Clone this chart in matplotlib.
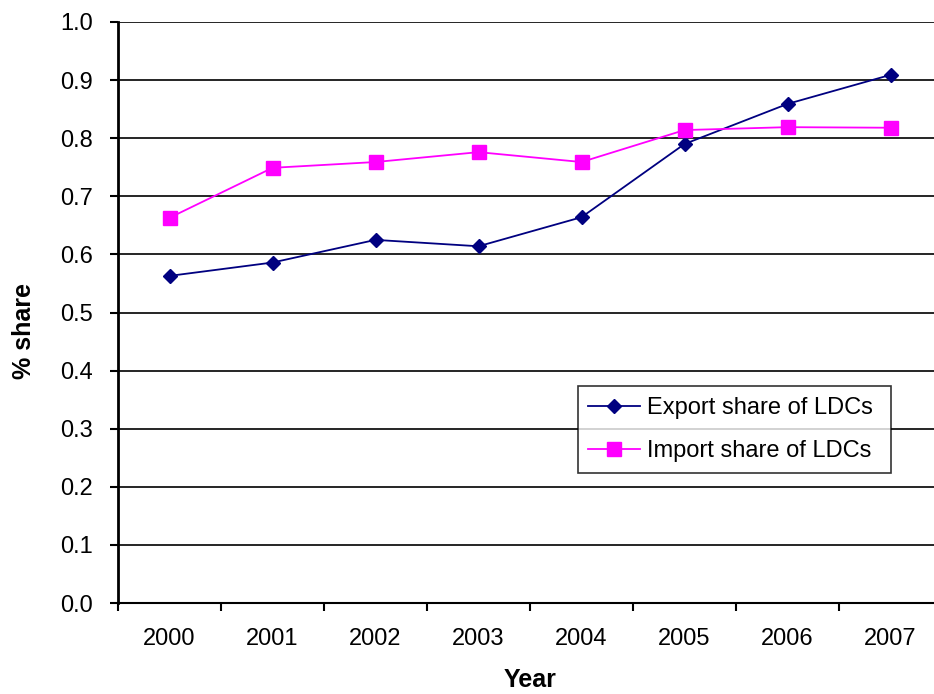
import matplotlib.pyplot as plt
import numpy as np

plt.rcParams['font.family'] = ['Liberation Sans', 'DejaVu Sans']

years = ['2000', '2001', '2002', '2003', '2004', '2005', '2006', '2007']
export_share = [0.563, 0.586, 0.625, 0.614, 0.664, 0.790, 0.859, 0.909]
import_share = [0.663, 0.749, 0.759, 0.776, 0.759, 0.814, 0.819, 0.818]

fig = plt.figure(figsize=(9.34, 6.94), dpi=100)
ax = fig.add_axes([118/934, 91/694, 824/934, 581/694])

x = np.arange(len(years))
ax.plot(x, export_share, color='#000080', marker='D', markersize=7, lw=1.3,
        label='Export share of LDCs', zorder=3)
ax.plot(x, import_share, color='#FF00FF', marker='s', markersize=10, lw=1.3,
        label='Import share of LDCs', zorder=3)

ax.set_xlim(-0.5, len(years) - 0.5)
ax.set_ylim(0, 1.0)
ax.set_yticks(np.arange(0, 1.01, 0.1))
ax.set_yticklabels(['%.1f' % v for v in np.arange(0, 1.01, 0.1)])
ax.yaxis.grid(True, color='black', lw=1.2)
ax.set_axisbelow(True)

ax.set_xticks(x)
ax.set_xticklabels(years)
ax.set_xticks(np.arange(-0.5, len(years), 1), minor=True)
ax.tick_params(axis='x', which='major', length=0, pad=18, labelsize=17)
ax.tick_params(axis='x', which='minor', length=6, width=1.5, direction='out')
ax.tick_params(axis='y', length=6, width=1.5, direction='out', labelsize=17, pad=12)

for s in ['top', 'right']:
    ax.spines[s].set_visible(False)
ax.spines['left'].set_linewidth(2)
ax.spines['bottom'].set_linewidth(1.5)

ax.set_xlabel('Year', fontsize=18, fontweight='bold', labelpad=13)
ax.set_ylabel('% share', fontsize=18, fontweight='bold')
ax.yaxis.set_label_coords(-0.100, 0.468)

leg = ax.legend(loc='lower left', bbox_to_anchor=(0.558, 0.224, 0.38, 0.151),
                mode='expand', fontsize=17, frameon=True, fancybox=False,
                edgecolor='black', borderaxespad=0, handlelength=2.2,
                handletextpad=0.3, labelspacing=0.9, borderpad=0.45)
leg.get_frame().set_linewidth(1.2)

fig.savefig('out.png', dpi=100)
